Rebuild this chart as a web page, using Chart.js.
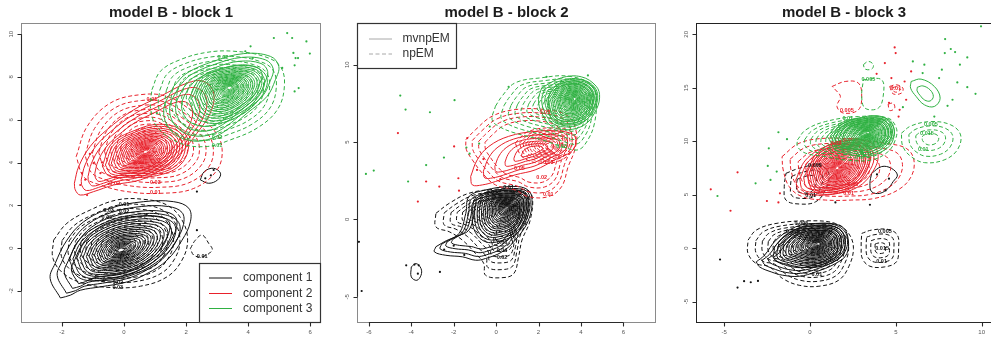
<!DOCTYPE html>
<html>
<head>
<meta charset="utf-8">
<script src="https://cdn.jsdelivr.net/npm/chart.js@4/dist/chart.umd.min.js"></script>
<style>
  html, body { margin: 0; padding: 0; background: #fff; width: 991px; height: 340px; overflow: hidden; position: relative; }
  canvas { position: absolute; top: 0; }
</style>
</head>
<body>
<canvas id="block1" width="330" height="340" style="left:0"></canvas>
<canvas id="block2" width="330" height="340" style="left:330px"></canvas>
<canvas id="block3" width="336" height="340" style="left:660px"></canvas>
<script>
// ---------- component colours ----------
const compColors = ['#111111', '#e8212b', '#2fb142'];

// ---------- contour level fractions (ring size relative to its reference ring) ----------
const outerLevels  = [1, .9, .8, .7];
const coreLevels   = [.96, .89, .82, .76, .7, .64, .59, .54, .49, .44, .4, .36, .32, .28, .24, .21, .18, .15, .12, .09, .06];
const dashedLevels = [1, .88, .78, .69, .61, .53, .46, .39, .32, .25, .18, .11];
const sparseLevels = [1, .85, .7, .56, .43, .3, .18];
const fewLevels    = [1, .8, .62, .46, .32, .2];
const blobLevels   = [1, .74, .5, .28];
const pairLevels   = [1, .55];
const singleLevel  = [1];

// ---------- tick values ----------
const b1XTicks = [-2, 0, 2, 4, 6];
const b1YTicks = [-2, 0, 2, 4, 6, 8, 10];
const b2XTicks = [-6, -4, -2, 0, 2, 4, 6];
const b2YTicks = [-5, 0, 5, 10];
const b3XTicks = [-5, 0, 5, 10];
const b3YTicks = [-5, 0, 5, 10, 15, 20];

// ================= block 1 =================
const b1c1Solid = [[-2.05,-2.33],[-2.38,-1.42],[-2.22,-0.72],[-1.84,0.37],[-1.30,1.23],[-0.44,1.86],[0.63,2.17],[1.60,2.17],[2.09,1.86],[2.14,1.23],[1.87,0.37],[1.39,-0.56],[0.74,-1.19],[0.10,-1.58],[-0.76,-1.81],[-1.41,-1.97],[-1.73,-2.20]];
const b1c1SolidPeak = [-0.1, -0.1];
const b1c1Core = [[-1.84,-0.56],[-1.52,0.37],[-0.76,1.16],[0.31,1.62],[1.39,1.62],[1.87,1.16],[1.71,0.22],[1.06,-0.72],[0.20,-1.34],[-0.76,-1.58],[-1.52,-1.42]];
const b1c1CorePeak = [-0.1, -0.1];
const b1c1Dashed = [[-2.27,0.37],[-1.84,1.16],[-1.09,1.78],[-0.23,2.25],[0.63,2.28],[1.39,2.01],[1.87,1.31],[2.05,0.37],[1.87,-0.56],[1.39,-1.34],[0.53,-1.78],[-0.44,-1.84],[-1.30,-1.65],[-1.95,-1.19],[-2.29,-0.48]];
const b1c1DashedPeak = [0.0, 0.2];
const b1c1SmallSolid = [[2.46,3.19],[2.59,3.58],[2.89,3.73],[3.11,3.50],[3.02,3.19],[2.73,3.03]];
const b1c1SmallDashed = [[2.14,-0.02],[2.30,0.37],[2.52,0.61],[2.73,0.22],[2.84,-0.09],[2.52,-0.41],[2.25,-0.33]];
const b1c2Solid = [[-1.60,3.03],[-1.46,3.81],[-1.09,4.75],[-0.55,5.53],[0.31,6.46],[1.17,7.09],[2.03,7.71],[2.57,7.79],[2.89,7.24],[2.78,6.31],[2.35,5.37],[1.82,4.43],[1.17,3.65],[0.53,3.19],[-0.33,2.95],[-0.98,2.64],[-1.41,2.48],[-1.57,2.72]];
const b1c2SolidPeak = [0.6, 4.6];
const b1c2Core = [[-0.76,3.81],[-0.44,4.90],[0.31,5.53],[1.17,5.84],[1.92,5.53],[2.14,4.75],[1.82,3.81],[1.06,3.34],[0.10,3.26],[-0.55,3.34]];
const b1c2CorePeak = [0.7, 4.5];
const b1c2Dashed = [[-1.54,4.28],[-1.19,5.68],[-0.44,6.78],[0.53,7.17],[1.39,7.09],[2.14,6.46],[2.89,5.53],[3.16,4.67],[3.00,3.65],[2.25,2.79],[1.17,2.56],[0.10,2.64],[-0.76,2.95],[-1.30,3.34]];
const b1c2DashedPeak = [0.8, 4.9];
const b1c3Solid = [[1.60,7.56],[2.03,8.18],[2.89,8.73],[3.86,9.09],[4.72,8.96],[4.99,8.49],[4.88,7.87],[4.61,7.09],[3.97,6.31],[3.32,5.53],[2.68,5.06],[2.03,5.06],[1.49,5.53],[1.28,6.46]];
const b1c3SolidPeak = [3.2, 7.3];
const b1c3Core = [[2.03,6.93],[2.46,8.02],[3.32,8.49],[4.29,8.49],[4.67,7.87],[4.40,6.93],[3.75,6.15],[3.00,5.76],[2.35,6.00]];
const b1c3CorePeak = [3.4, 7.5];
const b1c3Dashed = [[0.90,7.40],[1.17,8.26],[1.82,8.81],[2.68,9.15],[3.54,9.20],[4.51,8.96],[5.04,8.49],[5.17,7.56],[4.94,6.46],[4.29,5.61],[3.43,5.06],[2.68,4.75],[1.82,4.90],[1.06,5.68],[0.85,6.62]];
const b1c3DashedPeak = [3.0, 7.2];

const b1Pts1 = [[2.35,2.64],[2.35,0.84],[2.89,3.65],[2.62,3.26],[2.80,3.40]];
const b1Pts2 = [[-1.41,2.95],[-1.19,2.48],[-0.98,3.97],[-0.76,3.50],[-0.71,4.01],[-1.35,3.50],[-1.25,3.20],[-0.50,3.00],[-1.10,4.40],[-0.30,3.30]];
const b1Pts3 = [[5.26,10.05],[5.42,9.82],[4.83,9.82],[5.88,9.66],[4.08,9.43],[3.91,9.20],[5.46,9.12],[5.99,9.09],[5.53,8.88],[5.61,8.88],[5.50,8.54],[5.10,8.42],[5.63,7.48],[5.50,7.32],[4.15,8.88],[0.90,6.93],[1.06,6.31]];
const b1Labels = [[0.0,2.05,'0.01',0],[-0.5,1.75,'0.03',0],[0.0,1.72,'0.02',0],[-0.55,1.45,'0.05',0],[2.52,-0.37,'0.01',0],[-0.2,-1.62,'0.02',0],[-0.2,-1.83,'0.03',0],
  [1.01,2.59,'0.01',1],[1.01,3.05,'0.03',1],[-0.3,3.0,'0.02',1],[0.9,6.96,'0.01',1],
  [3.19,8.93,'0.02',2],[3.0,4.79,'0.01',2],[3.0,5.15,'0.02',2]];

// ================= block 2 =================
const b2c1Solid = [[-2.84,-1.77],[-2.45,-1.45],[-1.75,-0.91],[-1.43,0.39],[-1.28,1.47],[-0.50,1.90],[0.59,2.12],[1.37,2.01],[1.68,1.47],[1.53,-0.04],[0.90,-1.34],[0.28,-2.10],[-0.50,-2.53],[-0.97,-2.64],[-1.59,-2.42],[-2.37,-2.32],[-2.91,-2.10]];
const b2c1SolidPeak = [-0.2, -0.2];
const b2c1Core = [[-1.12,1.26],[-0.50,1.80],[0.59,2.01],[1.45,1.90],[1.65,1.26],[1.53,0.17],[1.06,-0.91],[0.28,-1.45],[-0.50,-1.56],[-1.04,-0.91],[-1.20,0.17]];
const b2c1CorePeak = [0.5, 0.8];
const b2c1Dashed = [[-2.84,0.39],[-2.21,1.04],[-1.28,1.69],[-0.03,1.95],[1.22,1.95],[1.68,1.58],[1.61,-0.04],[1.22,-1.34],[1.06,-2.42],[0.83,-3.51],[0.28,-3.77],[-0.50,-3.61],[-0.58,-2.86],[-0.97,-2.21],[-1.59,-1.34],[-2.21,-0.80],[-2.84,-0.48]];
const b2c1DashedPeak = [0.4, 0.6];
const b2c1SmallSolid = [[-4.0,-3.07],[-3.77,-2.86],[-3.54,-3.18],[-3.54,-3.61],[-3.74,-3.94],[-4.0,-3.72]];
const b2c2Solid = [[-1.20,2.77],[-0.89,3.85],[-0.34,4.72],[0.59,5.37],[1.84,5.69],[3.09,5.69],[3.71,5.37],[3.63,4.50],[2.77,3.85],[1.84,3.20],[0.90,2.88],[-0.03,2.45],[-0.65,2.23],[-1.12,2.23]];
const b2c2SolidPeak = [1.8, 4.5];
const b2c2Dashed = [[-1.43,5.15],[-0.97,5.80],[-0.19,6.67],[0.90,7.10],[2.31,7.10],[3.40,6.67],[3.79,5.58],[3.71,4.50],[3.40,3.42],[3.09,2.12],[2.46,1.47],[1.53,1.47],[0.90,1.90],[-0.03,2.23],[-0.65,2.99],[-1.12,3.85],[-1.40,4.50]];
const b2c2DashedPeak = [1.6, 4.6];
const b2c2Core = [[0.90,4.94],[1.53,5.69],[2.77,5.91],[3.63,5.58],[3.71,4.72],[3.09,3.85],[2.00,3.64],[1.22,4.07]];
const b2c2CorePeak = [2.5, 4.8];
const b2c3Solid = [[2.15,8.51],[3.09,9.16],[4.02,9.22],[4.72,8.61],[4.88,7.86],[4.64,6.88],[4.18,6.13],[3.40,5.80],[2.62,6.02],[2.15,6.88],[2.00,7.75]];
const b2c3SolidPeak = [3.5, 7.6];
const b2c3Core = [[2.31,7.75],[2.93,8.83],[4.02,9.09],[4.72,8.51],[4.80,7.53],[4.33,6.45],[3.40,6.02],[2.62,6.34]];
const b2c3CorePeak = [3.7, 7.8];
const b2c3Dashed = [[-0.03,7.32],[0.28,7.97],[0.90,8.83],[2.15,9.16],[3.40,9.26],[4.49,8.72],[4.72,7.75],[4.64,6.23],[4.33,5.15],[3.87,4.50],[3.09,4.72],[2.15,5.15],[0.90,5.58],[0.12,6.02],[-0.19,6.45]];
const b2c3DashedPeak = [3.3, 7.6];

const b2Pts1 = [[-6.47,-1.45],[-6.34,-4.63],[-4.24,-2.97],[-3.85,-2.92],[-3.65,-2.97],[-3.69,-3.51],[-2.65,-3.40],[-2.45,-1.95],[-2.0,-1.7],[-1.5,-2.3]];
const b2Pts2 = [[-4.63,5.58],[-1.98,4.72],[-3.30,2.45],[-2.68,2.12],[-3.69,1.15],[-1.78,2.66],[-1.75,1.86],[-1.36,5.26],[-0.6,3.9],[0.2,2.6],[-0.9,3.2]];
const b2Pts3 = [[-4.52,8.01],[-4.27,7.10],[-3.12,6.93],[-1.96,7.71],[-6.14,2.94],[-5.77,3.16],[-4.15,2.45],[-3.30,3.51],[-2.46,4.0],[-1.40,4.65],[0.59,8.57],[4.33,9.31],[2.38,9.22],[-0.3,6.0],[-0.8,4.9],[-1.25,4.25]];
const b2Labels = [[2.46,1.58,'0.01',1],[2.15,2.71,'0.02',1],[2.46,3.7,'0.03',1],[1.1,3.3,'0.05',1],[2.3,6.9,'0.05',1],
  [0.59,2.05,'0.01',0],[-0.2,1.75,'0.03',0],[0.28,-2.49,'0.02',0],[0.28,-2.0,'0.04',0],[0.28,-1.5,'0.06',0],
  [3.09,4.72,'0.03',2]];

// ================= block 3 =================
const b3c1Solid = [[-3.13,-1.28],[-2.65,-0.66],[-1.98,0.75],[-0.83,2.0],[0.33,2.31],[1.67,2.16],[2.15,1.38],[2.15,-0.50],[1.48,-1.44],[0.33,-2.22],[-0.63,-2.63],[-1.59,-2.53],[-2.26,-2.22],[-2.94,-1.75]];
const b3c1SolidPeak = [0.2, 0.1];
const b3c1Core = [[-2.17,0.13],[-1.40,1.38],[-0.06,2.25],[1.48,2.25],[2.21,1.22],[2.05,-0.50],[1.09,-1.59],[-0.25,-1.91],[-1.40,-1.59],[-2.17,-1.09]];
const b3c1CorePeak = [0.5, 0.4];
const b3c1Dashed = [[-3.61,0.75],[-3.13,1.69],[-1.98,2.31],[-0.06,2.56],[1.48,2.31],[2.25,1.38],[2.53,-0.03],[2.25,-1.75],[1.67,-3.0],[0.52,-3.56],[-0.63,-3.47],[-1.59,-2.84],[-2.36,-1.75],[-3.13,-1.44],[-3.61,-0.50]];
const b3c1DashedPeak = [0.2, 0.3];
const b3c1RightDashed = [[3.01,1.38],[3.59,1.69],[4.55,1.75],[5.09,1.22],[5.16,-0.03],[5.03,-1.28],[4.36,-1.75],[3.49,-1.69],[3.05,-0.97],[2.98,0.13]];
const b3c1RightPeak = [4.1, 0.0];
const b3c1UpperSolid = [[3.59,7.0],[4.17,7.63],[4.74,7.47],[5.09,6.84],[4.84,6.22],[4.55,5.59],[4.07,5.13],[3.59,5.28],[3.49,6.06]];
const b3c1UpperPeak = [4.2, 6.4];
const b3c1UpperDashed = [[-1.40,7.0],[-0.63,7.47],[0.52,7.78],[1.09,7.0],[0.90,5.44],[0.33,4.34],[-0.63,4.13],[-1.40,4.5],[-1.50,5.75]];
const b3c1UpperDashedPeak = [-0.2, 6.0];
const b3c2Solid = [[-0.83,6.38],[-0.25,8.25],[0.90,9.5],[2.44,10.13],[3.59,9.81],[3.97,8.56],[3.59,7.0],[2.82,5.75],[1.67,5.13],[0.33,4.97],[-0.63,5.28]];
const b3c2SolidPeak = [1.5, 7.3];
const b3c2Core = [[-0.25,7.0],[0.33,8.88],[1.67,10.13],[3.01,10.28],[3.59,9.19],[3.40,7.31],[2.63,5.75],[1.29,4.97],[0.13,5.28]];
const b3c2CorePeak = [1.6, 7.5];
const b3c2Dashed = [[-1.63,8.56],[-0.63,9.81],[0.90,10.28],[2.82,10.13],[4.36,9.81],[5.60,9.34],[6.05,8.25],[5.89,6.69],[5.12,5.44],[3.78,4.66],[2.44,4.5],[0.90,4.5],[-0.44,4.81],[-1.21,5.75],[-1.56,7.31]];
const b3c2DashedPeak = [1.5, 7.0];
const b3c2UpperDashed = [[1.29,15.13],[2.05,15.59],[2.82,15.44],[3.01,14.19],[2.82,12.94],[1.96,12.63],[1.57,13.25],[1.77,14.19],[1.48,14.81]];
const b3c2UpperPeak = [2.2, 14.2];
const b3c2SmallA = [[4.64,15.13],[5.03,15.28],[5.41,14.97],[5.32,14.5],[4.84,14.44]];
const b3c2SmallAPeak = [5.0, 14.85];
const b3c2SmallB = [[4.55,13.47],[4.84,13.56],[4.93,13.09],[4.64,12.88]];
const b3c3Solid = [[1.29,10.13],[1.67,11.38],[2.82,12.16],[4.17,12.31],[4.84,11.38],[4.84,10.13],[4.36,9.19],[3.21,8.56],[2.05,8.88],[1.38,9.34]];
const b3c3SolidPeak = [3.2, 10.5];
const b3c3Core = [[0.90,10.44],[1.67,11.69],[3.01,12.25],[4.55,12.16],[4.97,11.06],[4.74,9.97],[3.78,9.34],[2.44,9.19],[1.38,9.50]];
const b3c3CorePeak = [3.4, 10.8];
const b3c3Dashed = [[-0.73,10.13],[-0.25,11.06],[0.90,11.84],[2.82,12.31],[4.55,12.16],[5.03,11.22],[4.97,10.13],[4.55,9.03],[3.59,8.25],[2.05,8.25],[0.90,8.56],[-0.25,8.88],[-0.73,9.5]];
const b3c3DashedPeak = [2.8, 10.4];
const b3c3RightDashed = [[5.32,10.75],[5.89,11.44],[7.04,11.84],[8.20,11.53],[8.77,10.59],[8.58,9.19],[7.81,8.25],[6.66,8.0],[5.89,8.56],[5.41,9.5]];
const b3c3RightPeak = [7.0, 10.3];
const b3c3UpperDashed = [[3.11,15.75],[4.17,15.75],[4.26,14.19],[3.97,13.09],[3.21,13.09],[3.01,14.19]];
const b3c3UpperPeak = [3.6, 14.4];
const b3c3TopDashed = [[3.11,17.16],[3.40,17.47],[3.69,17.16],[3.59,16.75],[3.21,16.75]];
const b3c3UpperSolid = [[5.89,15.59],[6.47,15.81],[7.24,15.13],[7.58,14.03],[7.24,13.25],[6.66,13.41],[6.18,14.19],[5.86,14.97]];
const b3c3UpperSolidPeak = [6.7, 14.4];

const b3Pts1 = [[-5.24,-1.06],[-4.22,-3.69],[-3.84,-3.09],[-3.45,-3.19],[-3.03,-3.06],[3.49,4.06],[1.48,4.28],[3.9,6.9],[4.4,5.4],[4.6,6.5]];
const b3Pts2 = [[-5.78,5.5],[-4.22,7.09],[-4.63,3.5],[-2.51,4.41],[-1.84,4.28],[-1.75,5.13],[4.93,18.78],[4.99,18.25],[4.36,17.31],[3.88,16.31],[5.89,16.53],[4.74,15.91],[5.51,15.59],[5.60,13.88],[5.22,12.94],[5.16,12.31],[4.6,13.6]];
const b3Pts3 = [[9.96,20.75],[7.87,19.56],[8.20,18.63],[8.45,18.34],[7.85,18.25],[9.16,17.84],[8.73,17.16],[7.68,16.69],[7.52,15.91],[8.58,15.5],[9.16,15.06],[9.64,14.44],[8.30,13.88],[8.01,13.31],[5.99,17.47],[6.66,17.16],[6.56,16.38],[7.24,12.31],[5.41,13.19],[-1.84,10.84],[-1.34,10.19],[-2.40,9.34],[-2.46,7.69],[-2.30,6.38],[-3.17,6.06],[-5.39,4.88],[-1.94,7.16]];
const b3Labels = [[4.36,1.59,'0.005',0],[4.17,-1.28,'0.01',0],[4.2,0.0,'0.015',0],[0.29,7.69,'0.005',0],[0.04,4.97,'0.01',0],[-0.5,2.35,'0.005',0],[0.4,-2.5,'0.01',0],[-1.0,1.6,'0.015',0],
  [2.15,12.84,'0.005',1],[2.25,5.13,'0.01',1],[5.0,14.9,'0.01',1],[2.5,6.0,'0.03',1],[1.5,9.8,'0.02',1],
  [7.04,11.59,'0.005',2],[6.81,10.69,'0.015',2],[6.6,9.19,'0.01',2],[3.40,15.81,'0.005',2],[2.2,12.1,'0.01',2]];

// ---------- chart construction ----------
const FONT = '"Liberation Sans", Arial, Helvetica, sans-serif';

function family(ring, peak, levels, comp, dashed) {
  return { ring, peak: peak || ring.reduce((s, p) => [s[0] + p[0] / ring.length, s[1] + p[1] / ring.length], [0, 0]), levels, comp, dashed };
}

function contourDatasets(fams) {
  const out = [];
  fams.forEach(f => {
    const closed = f.ring.concat([f.ring[0]]);
    f.levels.forEach(s => {
      out.push({
        data: closed.map(([x, y]) => ({ x: f.peak[0] + s * (x - f.peak[0]), y: f.peak[1] + s * (y - f.peak[1]) })),
        showLine: true,
        borderColor: compColors[f.comp],
        borderWidth: 1,
        borderDash: f.dashed ? [4, 2.5] : [],
        pointRadius: 0,
        tension: 0.38,
        fill: false,
        order: 30 - f.comp * 10
      });
    });
  });
  return out;
}

function pointDatasets(groups) {
  return groups.map((pts, comp) => ({
    data: pts.map(([x, y]) => ({ x, y })),
    showLine: false,
    pointRadius: 1.1,
    pointBorderWidth: 0,
    pointBackgroundColor: compColors[comp],
    order: 0
  }));
}

const framePlugin = {
  id: 'frame',
  afterDraw(chart) {
    const o = chart.options.plugins.frame;
    const { ctx, chartArea: a } = chart;
    const xs = chart.scales.x, ys = chart.scales.y;
    ctx.save();

    // contour level labels
    ctx.save();
    ctx.beginPath(); ctx.rect(a.left, a.top, a.right - a.left, a.bottom - a.top); ctx.clip();
    ctx.font = 'bold 5.5px ' + FONT;
    ctx.textAlign = 'center'; ctx.textBaseline = 'middle';
    o.labels.forEach(([lx, ly, t, c]) => {
      ctx.fillStyle = compColors[c];
      ctx.fillText(t, xs.getPixelForValue(lx), ys.getPixelForValue(ly));
    });
    ctx.restore();

    // plot box
    ctx.strokeStyle = o.boxColor; ctx.lineWidth = 1;
    ctx.strokeRect(a.left + 0.5, a.top + 0.5, a.right - a.left - 1, a.bottom - a.top - 1);

    // axes
    ctx.strokeStyle = '#2a2a2a'; ctx.lineWidth = 1.1;
    const by = a.bottom - 0.5, lx0 = a.left + 0.5;
    const xt = o.xTicks, yt = o.yTicks;
    ctx.beginPath();
    ctx.moveTo(xs.getPixelForValue(xt[0]), by); ctx.lineTo(xs.getPixelForValue(xt[xt.length - 1]), by);
    ctx.moveTo(lx0, ys.getPixelForValue(yt[0])); ctx.lineTo(lx0, ys.getPixelForValue(yt[yt.length - 1]));
    xt.forEach(v => { const px = Math.round(xs.getPixelForValue(v)) + 0.5; ctx.moveTo(px, by); ctx.lineTo(px, by + 4); });
    yt.forEach(v => { const py = Math.round(ys.getPixelForValue(v)) + 0.5; ctx.moveTo(lx0, py); ctx.lineTo(lx0 - 4, py); });
    ctx.stroke();

    ctx.fillStyle = '#555';
    ctx.font = '6px ' + FONT;
    ctx.textAlign = 'center'; ctx.textBaseline = 'middle';
    xt.forEach(v => ctx.fillText(String(v), xs.getPixelForValue(v), a.bottom + 9.5));
    yt.forEach(v => {
      ctx.save();
      ctx.translate(a.left - 10, ys.getPixelForValue(v));
      ctx.rotate(-Math.PI / 2);
      ctx.fillText(String(v), 0, 0);
      ctx.restore();
    });

    // title
    ctx.fillStyle = '#1c1c1c';
    ctx.font = 'bold 15px ' + FONT;
    ctx.fillText(o.title, (a.left + a.right) / 2, 13);

    // legend
    if (o.legend) {
      const L = o.legend;
      ctx.fillStyle = '#fff';
      ctx.fillRect(L.box[0], L.box[1], L.box[2], L.box[3]);
      ctx.strokeStyle = '#333'; ctx.lineWidth = 1.2;
      ctx.strokeRect(L.box[0] + 0.5, L.box[1] + 0.5, L.box[2] - 1, L.box[3] - 1);
      ctx.font = '12px ' + FONT;
      ctx.textAlign = 'left'; ctx.textBaseline = 'middle';
      L.items.forEach((it, i) => {
        const yy = L.rowY[i];
        ctx.strokeStyle = it.color; ctx.lineWidth = 1;
        ctx.setLineDash(it.dashed ? [4, 2.5] : []);
        ctx.beginPath(); ctx.moveTo(L.lineX[0], yy); ctx.lineTo(L.lineX[1], yy); ctx.stroke();
        ctx.setLineDash([]);
        ctx.fillStyle = '#333';
        ctx.fillText(it.text, L.textX, yy);
      });
    }
    ctx.restore();
  }
};

function makePanel(id, cfg) {
  const datasets = pointDatasets(cfg.points).concat(contourDatasets(cfg.families));
  return new Chart(document.getElementById(id), {
    type: 'scatter',
    data: { datasets },
    options: {
      responsive: false,
      animation: false,
      events: [],
      layout: { padding: cfg.padding },
      scales: {
        x: { type: 'linear', display: false, min: cfg.xRange[0], max: cfg.xRange[1] },
        y: { type: 'linear', display: false, min: cfg.yRange[0], max: cfg.yRange[1] }
      },
      plugins: {
        legend: { display: false },
        tooltip: { enabled: false },
        frame: { title: cfg.title, xTicks: cfg.xTicks, yTicks: cfg.yTicks, labels: cfg.labels, boxColor: cfg.boxColor, legend: cfg.legend }
      }
    },
    plugins: [framePlugin]
  });
}

makePanel('block1', {
  title: 'model B - block 1',
  padding: { left: 21, right: 9, top: 23, bottom: 17 },
  xRange: [-3.32, 6.35], yRange: [-3.5, 10.52],
  xTicks: b1XTicks, yTicks: b1YTicks, boxColor: '#8a8a8a',
  points: [b1Pts1, b1Pts2, b1Pts3],
  labels: b1Labels,
  families: [
    family(b1c1Solid, b1c1SolidPeak, outerLevels, 0, false),
    family(b1c1Core, b1c1CorePeak, coreLevels, 0, false),
    family(b1c1Dashed, b1c1DashedPeak, dashedLevels, 0, true),
    family(b1c1SmallSolid, null, singleLevel, 0, false),
    family(b1c1SmallDashed, null, singleLevel, 0, true),
    family(b1c2Solid, b1c2SolidPeak, outerLevels, 1, false),
    family(b1c2Core, b1c2CorePeak, coreLevels, 1, false),
    family(b1c2Dashed, b1c2DashedPeak, dashedLevels, 1, true),
    family(b1c3Solid, b1c3SolidPeak, outerLevels, 2, false),
    family(b1c3Core, b1c3CorePeak, coreLevels, 2, false),
    family(b1c3Dashed, b1c3DashedPeak, dashedLevels, 2, true)
  ],
  legend: {
    box: [199, 263, 122, 60], lineX: [209, 232], textX: 243, rowY: [278, 293.5, 308.5],
    items: [
      { text: 'component 1', color: compColors[0] },
      { text: 'component 2', color: compColors[1] },
      { text: 'component 3', color: compColors[2] }
    ]
  }
});

makePanel('block2', {
  title: 'model B - block 2',
  padding: { left: 27, right: 2, top: 23, bottom: 17 },
  xRange: [-6.56, 7.54], yRange: [-6.7, 12.7],
  xTicks: b2XTicks, yTicks: b2YTicks, boxColor: '#8a8a8a',
  points: [b2Pts1, b2Pts2, b2Pts3],
  labels: b2Labels,
  families: [
    family(b2c1Solid, b2c1SolidPeak, outerLevels, 0, false),
    family(b2c1Core, b2c1CorePeak, coreLevels, 0, false),
    family(b2c1Dashed, b2c1DashedPeak, dashedLevels, 0, true),
    family(b2c1SmallSolid, null, singleLevel, 0, false),
    family(b2c2Solid, b2c2SolidPeak, fewLevels, 1, false),
    family(b2c2Dashed, b2c2DashedPeak, outerLevels, 1, true),
    family(b2c2Core, b2c2CorePeak, dashedLevels, 1, true),
    family(b2c3Solid, b2c3SolidPeak, outerLevels, 2, false),
    family(b2c3Core, b2c3CorePeak, coreLevels, 2, false),
    family(b2c3Dashed, b2c3DashedPeak, dashedLevels, 2, true)
  ],
  legend: {
    box: [27, 23, 100, 46], lineX: [39, 62], textX: 72.5, rowY: [39, 54],
    items: [
      { text: 'mvnpEM', color: '#a8a8a8', dashed: false },
      { text: 'npEM', color: '#a8a8a8', dashed: true }
    ]
  }
});

makePanel('block3', {
  title: 'model B - block 3',
  padding: { left: 36, right: 1, top: 23, bottom: 17 },
  xRange: [-6.64, 10.6], yRange: [-7.0, 21.06],
  xTicks: b3XTicks, yTicks: b3YTicks, boxColor: '#222',
  points: [b3Pts1, b3Pts2, b3Pts3],
  labels: b3Labels,
  families: [
    family(b3c1Solid, b3c1SolidPeak, outerLevels, 0, false),
    family(b3c1Core, b3c1CorePeak, coreLevels, 0, false),
    family(b3c1Dashed, b3c1DashedPeak, dashedLevels, 0, true),
    family(b3c1RightDashed, b3c1RightPeak, blobLevels, 0, true),
    family(b3c1UpperSolid, b3c1UpperPeak, singleLevel, 0, false),
    family(b3c1UpperDashed, b3c1UpperDashedPeak, [1, .72, .45], 0, true),
    family(b3c2Solid, b3c2SolidPeak, outerLevels, 1, false),
    family(b3c2Core, b3c2CorePeak, coreLevels, 1, false),
    family(b3c2Dashed, b3c2DashedPeak, sparseLevels, 1, true),
    family(b3c2UpperDashed, b3c2UpperPeak, singleLevel, 1, true),
    family(b3c2SmallA, b3c2SmallAPeak, pairLevels, 1, true),
    family(b3c2SmallB, null, singleLevel, 1, true),
    family(b3c3Solid, b3c3SolidPeak, outerLevels, 2, false),
    family(b3c3Core, b3c3CorePeak, coreLevels, 2, false),
    family(b3c3Dashed, b3c3DashedPeak, dashedLevels, 2, true),
    family(b3c3RightDashed, b3c3RightPeak, blobLevels, 2, true),
    family(b3c3UpperDashed, b3c3UpperPeak, singleLevel, 2, true),
    family(b3c3TopDashed, null, singleLevel, 2, true),
    family(b3c3UpperSolid, b3c3UpperSolidPeak, pairLevels, 2, false)
  ]
});
</script>
</body>
</html>
